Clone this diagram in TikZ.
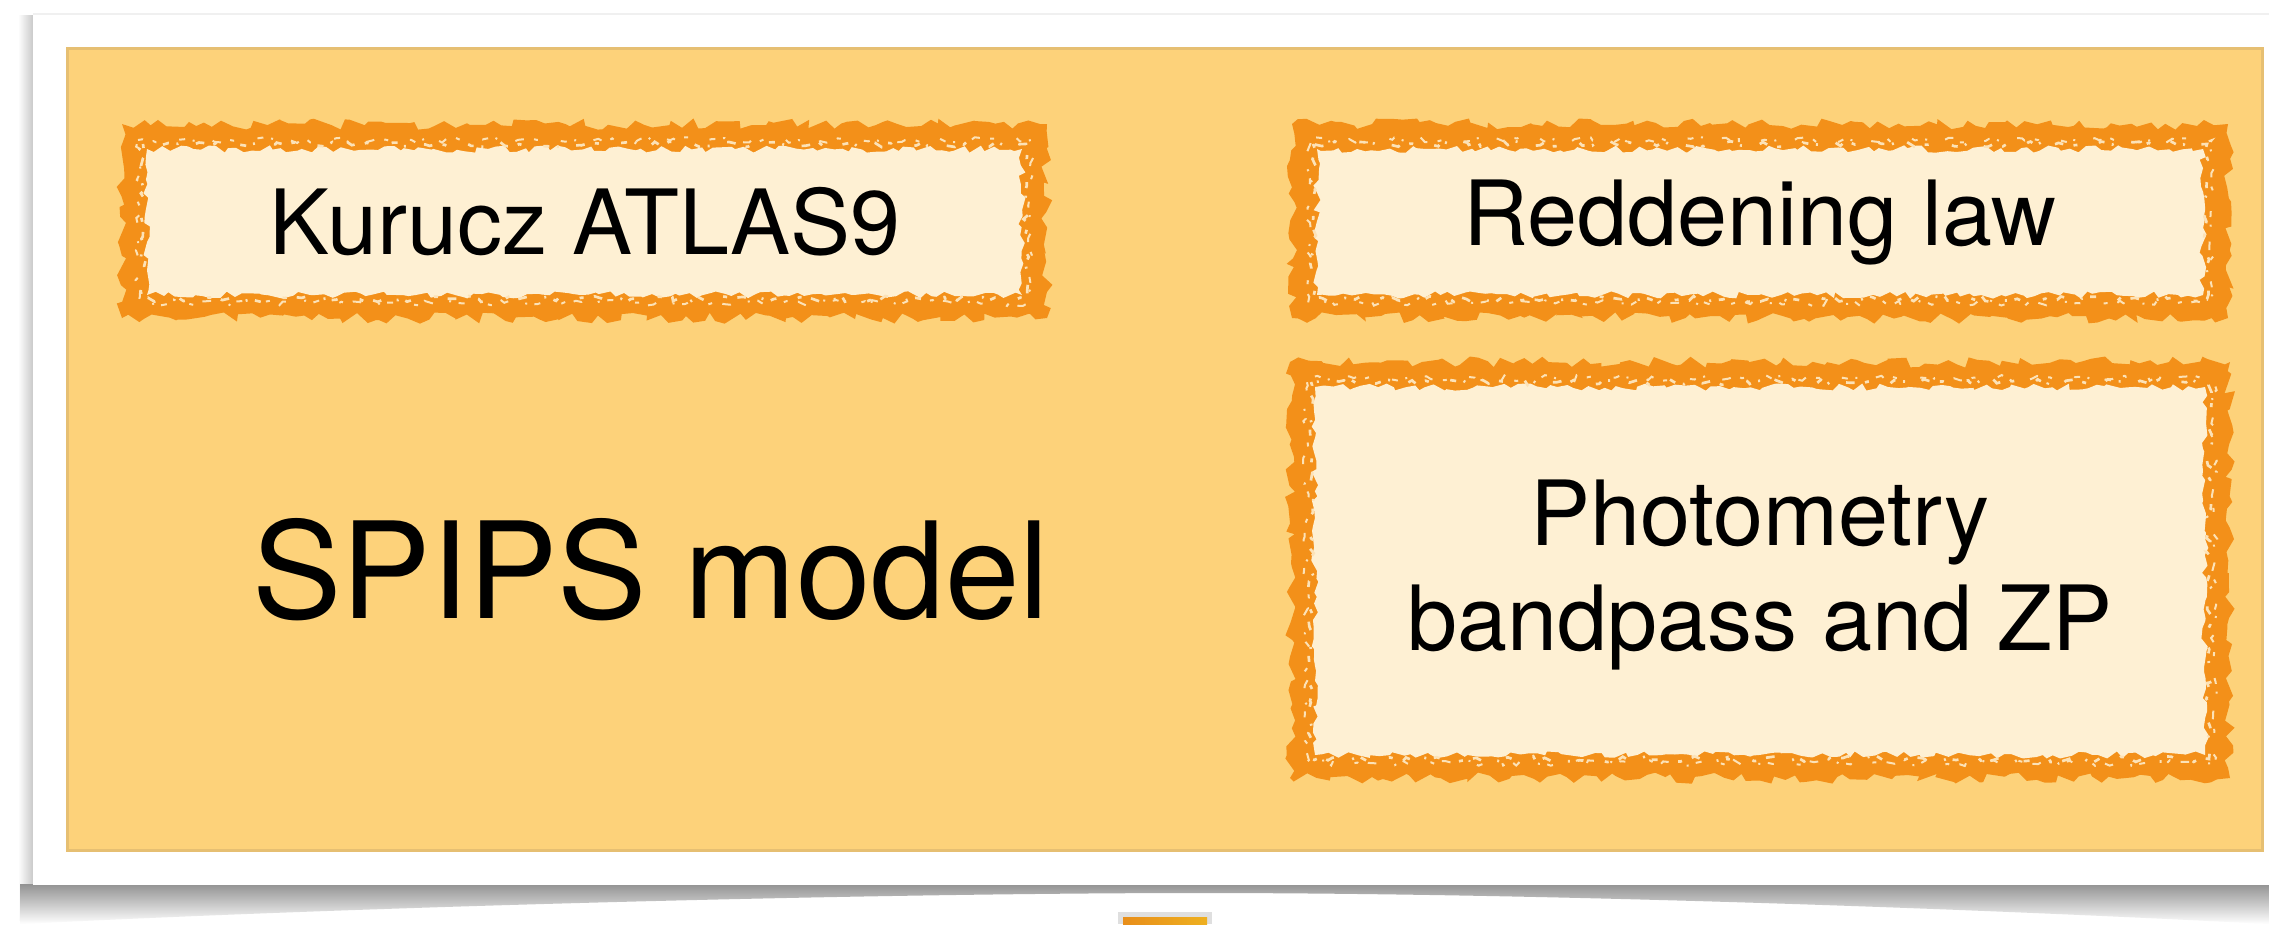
\documentclass[tikz,border=0pt]{standalone}
\usepackage{fontspec}
\setmainfont{TeX Gyre Heros}
\usetikzlibrary{decorations.pathmorphing}

\definecolor{panelfill}{HTML}{FDD27A}
\definecolor{panelline}{HTML}{E6BF72}
\definecolor{brush}{HTML}{F39019}
\definecolor{cream}{HTML}{FEF0D3}
\definecolor{tabL}{HTML}{E88E1A}
\definecolor{tabR}{HTML}{EEB020}

\tikzset{
  roughout/.style={fill=brush, decorate,
    decoration={random steps, segment length=2.6pt, amplitude=1.7pt}},
  roughin/.style={fill=cream, decorate,
    decoration={random steps, segment length=2.2pt, amplitude=1.1pt}},
  fleck/.style={draw=cream!85!brush, line width=0.8pt,
    dash pattern=on 1.2pt off 3.1pt on 2.6pt off 5.7pt on 0.6pt off 2.3pt on 1.8pt off 7.2pt,
    decorate, decoration={random steps, segment length=1.7pt, amplitude=0.9pt}},
  boxtext/.style={font=\fontsize{27}{31}\selectfont, text=black, align=center, inner sep=0pt},
  titletext/.style={font=\fontsize{40.2}{46}\selectfont, text=black, inner sep=0pt}
}

% brush-framed box from its outer corners
\newcommand{\brushbox}[4]{%
  \fill[roughout] (#1,#2) rectangle (#3,#4);
  \fill[roughin] (#1+25,#2+25) rectangle (#3-25,#4-23);
  \draw[fleck] (#1+21,#2+20) rectangle (#3-21,#4-19);
  \draw[fleck, dash phase=3pt, line width=0.6pt] (#1+16,#2+16) rectangle (#3-16,#4-15);
}

\begin{document}
\begin{tikzpicture}[x=0.3pt,y=-0.3pt]
  \pgfmathsetseed{4242}
  \useasboundingbox (0,0) rectangle (2269,924);
  \fill[white] (0,0) rectangle (2269,924);

  % card shadows
  \shade[left color=white, right color=gray!45] (18,15) rectangle (34,920);
  \shade[top color=gray!85, bottom color=white]
    (20,884) -- (2269,884) -- (2269,924)
    .. controls (1900,905) and (1500,893) .. (1200,893)
    .. controls (900,893) and (400,905) .. (20,924) -- cycle;

  % card
  \fill[gray!12] (33,13) rectangle (2269,885);
  \fill[white] (33,15) rectangle (2269,885);

  % panel
  \draw[panelline, fill=panelfill, line width=0.9pt] (67,48) rectangle (2262,850);

  % framed boxes
  \brushbox{122}{124}{1047}{318}
  \brushbox{1292}{124}{2228}{318}
  \brushbox{1290}{362}{2230}{778}

  % labels
  \node[boxtext] (kurucz) at (585,222) {Kurucz ATLAS9};
  \node[boxtext] (redden) at (1760,222) {Reddening law};
  \node[boxtext, font=\fontsize{27}{31.6}\selectfont] (phot) at (1760,575) {Photometry\\bandpass and ZP};
  \node[titletext] (spips) at (651,570) {SPIPS model};

  % tab below the card
  \fill[gray!25] (1118,912) rectangle (1212,924);
  \shade[left color=tabL, right color=tabR] (1123,917) rectangle (1207,924);
\end{tikzpicture}
\end{document}
